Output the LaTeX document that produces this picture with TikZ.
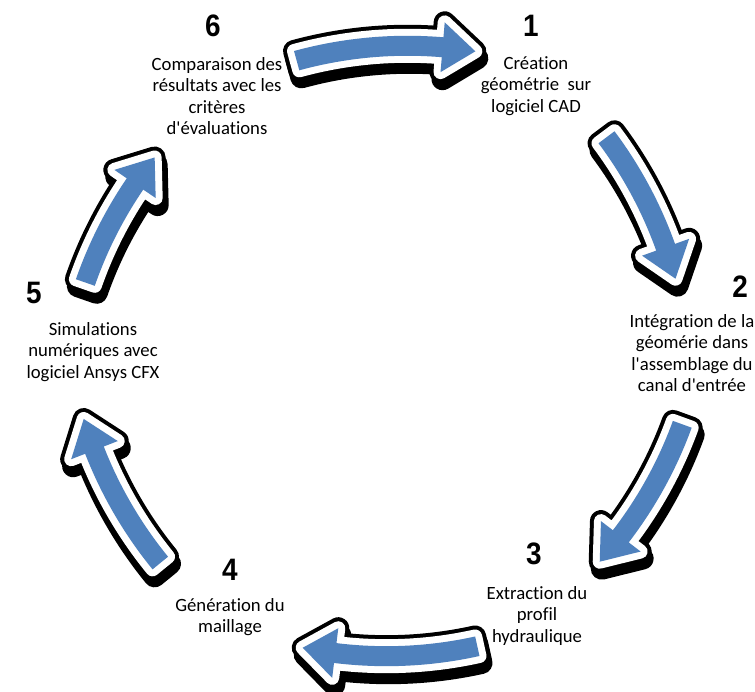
\documentclass[tikz,border=0pt]{standalone}
\usepackage{fontspec}
\setmainfont{Carlito}[Ligatures=NoCommon]
\newfontfamily\numfont{Liberation Sans}
\usepackage{graphicx}
\definecolor{arrowblue}{HTML}{4F81BD}
\tikzset{
 lbl/.style={align=center, font=\fontsize{18.7}{21.5}\selectfont, inner sep=0pt},
 num/.style={font=\numfont\bfseries\fontsize{31}{31}\selectfont, inner sep=0pt},
 shadowline/.style={black, line width=22pt, line join=round},
 blackline/.style={black, line width=22pt, line join=round},
 whiteline/.style={white, line width=14pt, line join=round},
}
% #1,#2 chord midpoint, #3 rotation, #4 half angle of the arrow
\newcommand\cyclearrow[4]{%
 \pgfmathsetmacro\Rc{420*cos(#4)}%
 \pgfmathsetmacro\ta{90+#4}%
 \pgfmathsetmacro\hb{90-#4+4.5}%
 \pgfmathsetmacro\tp{90-#4}%
 \pgfmathsetmacro\sx{#1+2}%
 \pgfmathsetmacro\sy{#2-7}%
 \def\arrshape{(0pt,-\Rc pt) ++(\ta:430pt) arc[start angle=\ta, end angle=\hb, radius=430pt] -- ([shift={(0pt,-\Rc pt)}]\hb:445pt) -- ([shift={(0pt,-\Rc pt)}]\tp:420pt) -- ([shift={(0pt,-\Rc pt)}]\hb:395pt) -- ([shift={(0pt,-\Rc pt)}]\hb:410pt) arc[start angle=\hb, end angle=\ta, radius=410pt] -- cycle}%
 \begin{scope}[shift={(\sx pt,\sy pt)},rotate=#3]
  \filldraw[shadowline] \arrshape;
 \end{scope}
 \begin{scope}[shift={(#1pt,#2pt)},rotate=#3]
  \filldraw[blackline] \arrshape;
  \filldraw[whiteline] \arrshape;
  \fill[arrowblue] \arrshape;
 \end{scope}}
\begin{document}
\begin{tikzpicture}[x=1pt,y=1pt]
\fill[white] (0,0) rectangle (755,692);
\useasboundingbox (0,0) rectangle (755,692);

% step texts
\node[lbl] (t6) at (217,596) {Comparaison des\\résultats avec les\\critères\\d\textquotesingle évaluations};
\node[lbl] (t1) at (536,606) {Création\\géométrie\ \ sur\\logiciel CAD};
\node[lbl] (t2) at (692,339) {Intégration de la\\géomérie dans\\l\textquotesingle assemblage du\\canal d\textquotesingle entrée};
\node[lbl] (t3) at (537,76) {Extraction du\\profil\\hydraulique};
\node[lbl] (t4) at (230,75) {Génération du\\maillage};
\node[lbl] (t5) at (93,340) {Simulations\\numériques avec\\logiciel Ansys CFX};

% numbers
\node[num] (n6) at (213,666) {\scalebox{0.9}[1]{6}};
\node[num] (n1) at (531,666) {\scalebox{0.9}[1]{1}};
\node[num] (n2) at (740,405) {\scalebox{0.9}[1]{2}};
\node[num] (n3) at (534,138) {\scalebox{0.9}[1]{3}};
\node[num] (n4) at (230,122) {\scalebox{0.9}[1]{4}};
\node[num] (n5) at (34,399) {\scalebox{0.9}[1]{5}};

% arrows
\cyclearrow{386}{636}{3}{12.3}
\cyclearrow{641}{484}{-64}{10.8}
\cyclearrow{641}{199}{-121}{11.0}
\cyclearrow{390}{45}{180.5}{12.0}
\cyclearrow{122}{201}{118}{11.2}
\cyclearrow{120}{472}{61}{9.8}
\end{tikzpicture}
\end{document}
